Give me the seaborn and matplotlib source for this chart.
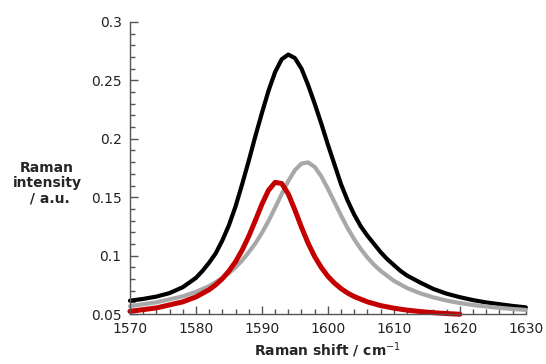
import numpy as np
import pandas as pd
import matplotlib
matplotlib.use('Agg')
import matplotlib.pyplot as plt
from matplotlib.ticker import MultipleLocator, FormatStrFormatter
import seaborn as sns

# Values
black_x = [1570, 1572, 1574, 1576, 1578, 1580, 1581, 1582, 1583, 1584, 1585, 1586, 1587, 1588,
           1589, 1590, 1591, 1592, 1593, 1594, 1595, 1596, 1597, 1598, 1599, 1600, 1601, 1602,
           1603, 1604, 1605, 1606, 1607, 1608, 1609, 1610, 1611, 1612, 1614, 1616, 1618, 1620,
           1622, 1624, 1626, 1628, 1630]
black_y = [0.0615, 0.063, 0.065, 0.068, 0.073, 0.081, 0.087, 0.094, 0.102, 0.113, 0.126, 0.142,
           0.161, 0.181, 0.202, 0.222, 0.241, 0.257, 0.268, 0.272, 0.269, 0.260, 0.246, 0.230,
           0.213, 0.195, 0.178, 0.161, 0.147, 0.135, 0.125, 0.117, 0.110, 0.103, 0.097, 0.092,
           0.087, 0.083, 0.077, 0.0715, 0.0675, 0.0645, 0.062, 0.060, 0.0585, 0.057, 0.0558]

gray_x = [1570, 1574, 1578, 1580, 1582, 1584, 1585, 1586, 1587, 1588, 1589, 1590, 1591, 1592,
          1593, 1594, 1595, 1596, 1597, 1598, 1599, 1600, 1601, 1602, 1603, 1604, 1605, 1606,
          1607, 1608, 1610, 1612, 1614, 1616, 1618, 1620, 1622, 1625, 1628, 1630]
gray_y = [0.0568, 0.0601, 0.0652, 0.069, 0.074, 0.0808, 0.085, 0.0901, 0.0959, 0.1029, 0.1104,
          0.1195, 0.1297, 0.141, 0.1527, 0.1639, 0.1731, 0.1788, 0.1798, 0.1759, 0.1679, 0.1573,
          0.1458, 0.1343, 0.1235, 0.114, 0.1056, 0.0984, 0.0922, 0.087, 0.0785, 0.0723, 0.0678,
          0.0643, 0.0616, 0.0595, 0.0578, 0.0559, 0.0544, 0.0536]

red_x = [1570, 1574, 1578, 1580, 1582, 1583, 1584, 1585, 1586, 1587, 1588, 1589, 1590, 1591,
         1592, 1593, 1594, 1595, 1596, 1597, 1598, 1599, 1600, 1601, 1602, 1603, 1604, 1606,
         1608, 1610, 1612, 1614, 1616, 1618, 1620]
red_y = [0.0524, 0.0553, 0.0605, 0.0647, 0.0709, 0.0751, 0.0803, 0.0868, 0.0948, 0.1047, 0.1165,
         0.130, 0.144, 0.1559, 0.1627, 0.1617, 0.1528, 0.1391, 0.1243, 0.1107, 0.0992, 0.0899,
         0.0824, 0.0765, 0.0718, 0.068, 0.065, 0.0605, 0.0573, 0.0551, 0.0534, 0.0522, 0.0512,
         0.0505, 0.0499]

sns.set_style("ticks")
plt.rcParams['font.family'] = ['DejaVu Sans']

fig = plt.figure(figsize=(5.46, 3.64), dpi=100)
ax = fig.add_axes([0.238, 0.137, 0.725, 0.803])

spectra = [
    (black_x, black_y, '#000000', 3.0),
    (gray_x, gray_y, '#a8a8a8', 3.0),
    (red_x, red_y, '#c40000', 3.6),
]
for xs, ys, col, lw in spectra:
    df = pd.DataFrame({'shift': xs, 'intensity': ys})
    sns.lineplot(data=df, x='shift', y='intensity', color=col, linewidth=lw,
                 sort=False, ax=ax, solid_capstyle='round', solid_joinstyle='round',
                 clip_on=False)

ax.set_xlim(1570, 1630)
ax.set_ylim(0.05, 0.3)
ax.xaxis.set_major_locator(MultipleLocator(10))
ax.xaxis.set_minor_locator(MultipleLocator(2))
ax.yaxis.set_major_locator(MultipleLocator(0.05))
ax.yaxis.set_minor_locator(MultipleLocator(0.01))
ax.yaxis.set_major_formatter(FormatStrFormatter('%g'))

for side in ['top', 'right']:
    ax.spines[side].set_visible(False)
for side in ['left', 'bottom']:
    ax.spines[side].set_color('#555555')
    ax.spines[side].set_linewidth(1.0)

ax.tick_params(which='major', direction='in', length=6, width=1, color='#555555',
               labelsize=10, labelcolor='#222222', pad=6)
ax.tick_params(which='minor', direction='in', length=3.5, width=1, color='#555555')

ax.set_xlabel('Raman shift / cm$^{-1}$', fontsize=10, fontweight='bold', labelpad=3)
ax.set_ylabel('')
fig.text(0.086, 0.497, 'Raman\nintensity\n / a.u.', ha='center', va='center',
         fontsize=10, fontweight='bold', linespacing=1.1)

fig.savefig('out.png', dpi=100)
